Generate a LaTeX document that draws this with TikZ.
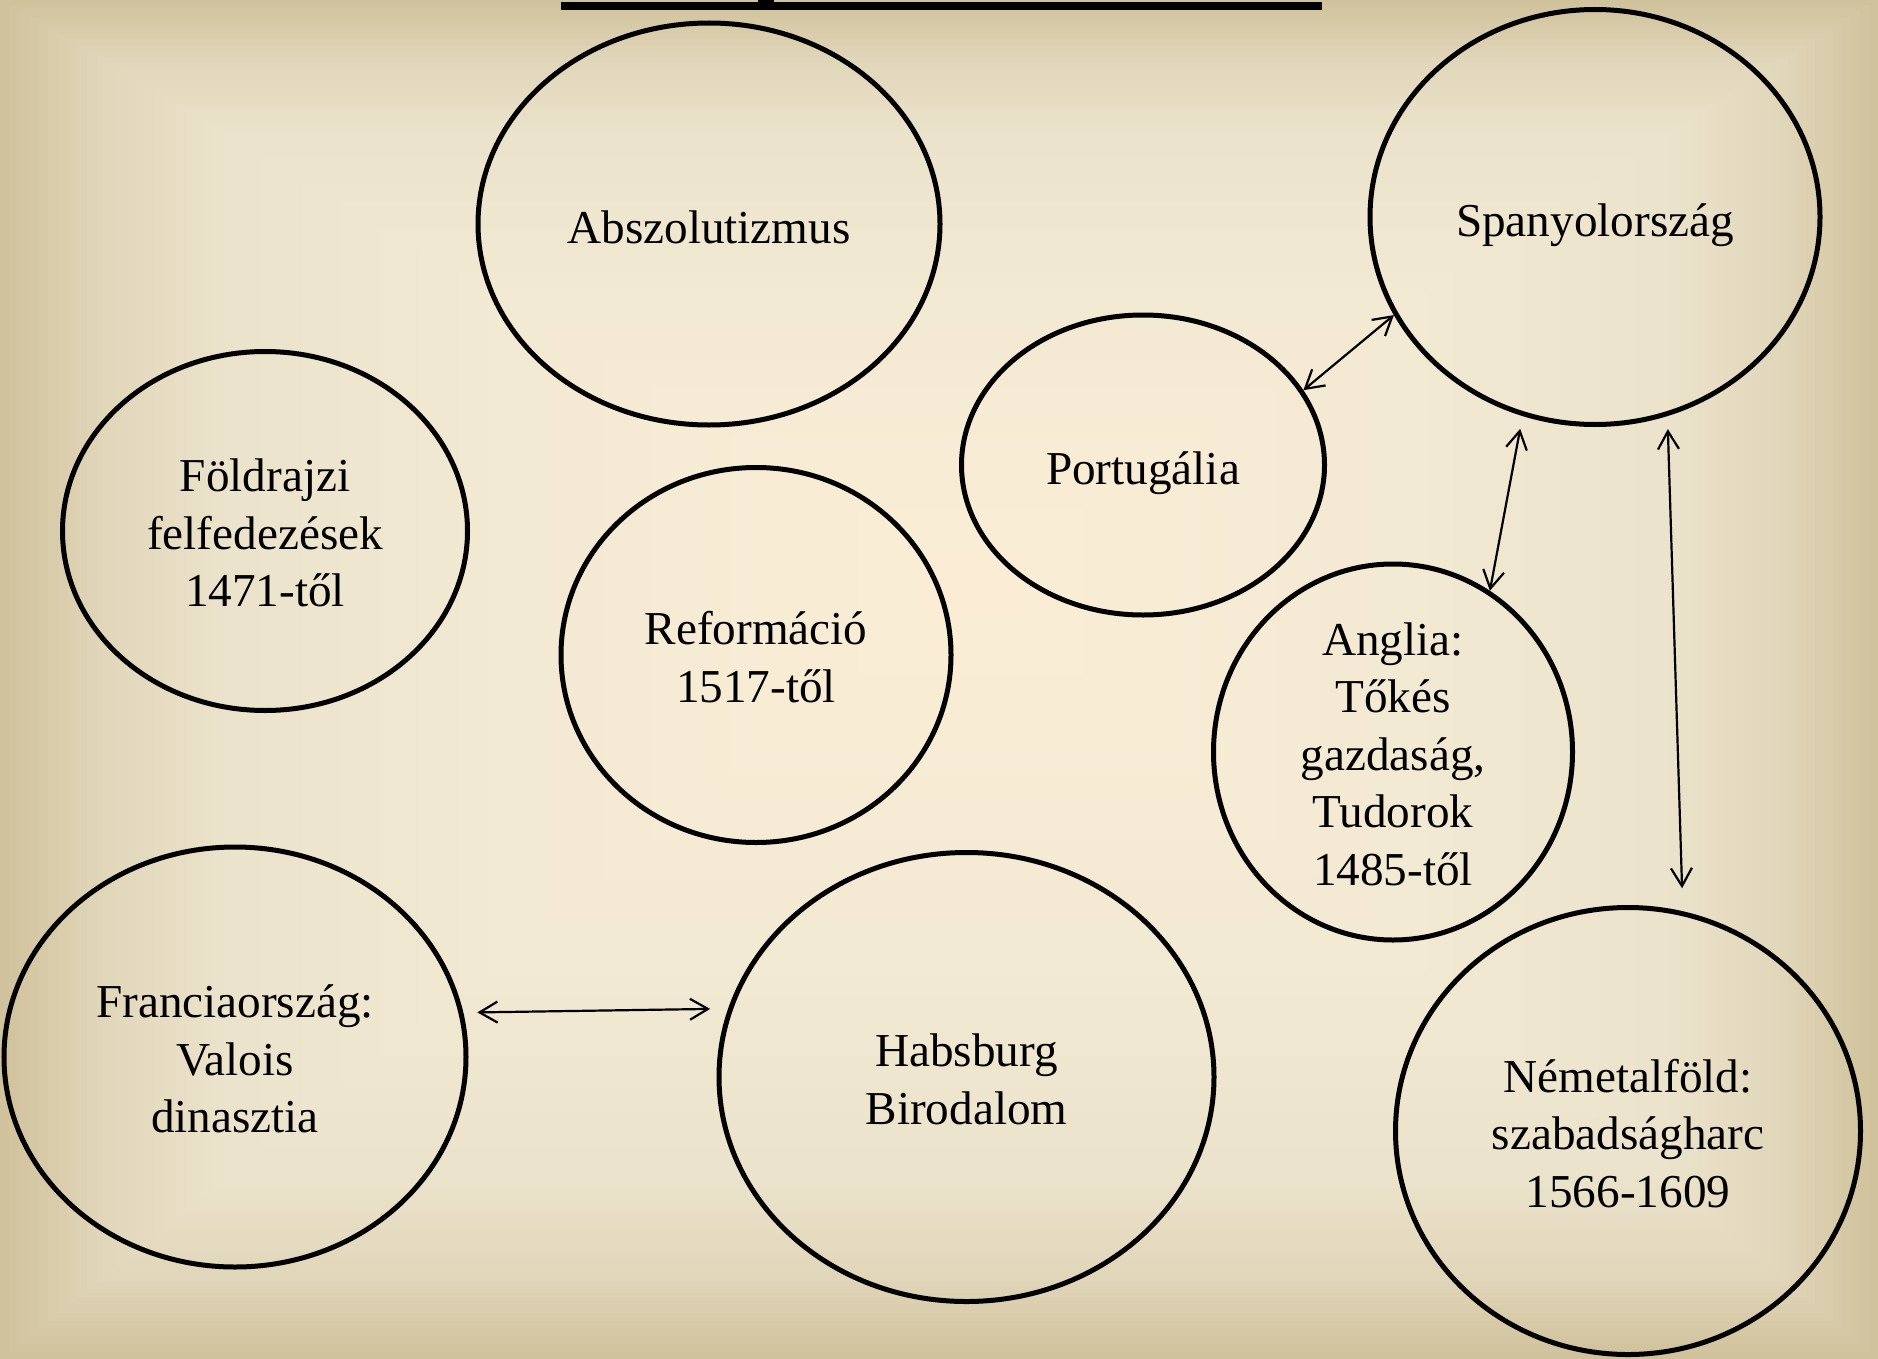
\documentclass[tikz,border=0pt]{standalone}
\usepackage{fontspec}
\setmainfont{Liberation Serif}
\usetikzlibrary{shapes.geometric,arrows.meta}
% piecewise-linear profile of one colour channel; #1 = t, #2..#6 = values at t = 1, .9, .78, .5, 0
\pgfmathdeclarefunction{bgprof}{6}{%
  \pgfmathparse{(#1>=0.9) ? (#3+(#2-#3)*(#1-0.9)/0.1) : ((#1>=0.78) ? (#4+(#3-#4)*(#1-0.78)/0.12) : ((#1>=0.5) ? (#5+(#4-#5)*(#1-0.5)/0.28) : (#6+(#5-#6)*#1/0.5)))}%
}
\tikzset{
  oval/.style={ellipse, draw=black, line width=5pt, inner sep=0pt},
  lbl/.style={align=center, font=\fontsize{47.2}{57.5}\selectfont, text=black, inner sep=0pt,
    execute at begin node=\strut, execute at end node=\strut, yshift=-10.5pt},
  one/.style={yshift=2.5pt},
  link/.style={{Straight Barb[length=18pt,width=21pt]}-{Straight Barb[length=18pt,width=21pt]}, line width=2.2pt},
}
\begin{document}
\begin{tikzpicture}[x=1pt,y=-1pt]
\useasboundingbox (0,0) rectangle (1878,1359);
% rectangular gradient background, centre (975,580)
\foreach \i in {0,...,100} {
  \pgfmathsetmacro\tv{1-\i/100}
  \pgfmathtruncatemacro\cR{bgprof(\tv,209,225,235,243,252)}
  \pgfmathtruncatemacro\cG{bgprof(\tv,195,215,227,234,238)}
  \pgfmathtruncatemacro\cB{bgprof(\tv,157,186,203,212,214)}
  \definecolor{bgtmp}{RGB}{\cR,\cG,\cB}
  \fill[bgtmp] ({975-\tv*975-0.5},{580-\tv*580-0.5}) rectangle ({975+\tv*903+0.5},{580+\tv*779+0.5});
}
% cut-off title underline
\fill[black] (561,2) rectangle (1322,10);
\fill[black] (758,0) rectangle (774,4);

\node[oval, minimum width=462pt, minimum height=402pt, label={[lbl,one]center:Abszolutizmus}] (absz) at (709,224) {};
\node[oval, minimum width=450pt, minimum height=415pt, label={[lbl,one]center:Spanyolország}] (sp) at (1595,217) {};
\node[oval, minimum width=405pt, minimum height=359pt, label={[lbl]center:{Földrajzi\\felfedezések\\1471-től}}] (fold) at (265,531) {};
\node[oval, minimum width=363pt, minimum height=300pt, label={[lbl,one]center:Portugália}] (port) at (1143,465) {};
\node[oval, minimum width=390pt, minimum height=375pt, label={[lbl]center:{Reformáció\\1517-től}}] (ref) at (756,655) {};
\node[oval, minimum width=359pt, minimum height=376pt, label={[lbl]center:{Anglia:\\Tőkés\\gazdaság,\\Tudorok\\1485-től}}] (ang) at (1393,752) {};
\node[oval, minimum width=462pt, minimum height=420pt, label={[lbl]center:{Franciaország:\\Valois\\dinasztia}}] (fr) at (235,1057) {};
\node[oval, minimum width=495pt, minimum height=449pt, label={[lbl]center:{Habsburg\\Birodalom}}] (hab) at (966.5,1077) {};
\node[oval, minimum width=465pt, minimum height=447pt, label={[lbl]center:{Németalföld:\\szabadságharc\\1566-1609}}] (nem) at (1628,1131) {};

\draw[link] (port.25) -- (sp.206.6);
\draw[link, shorten >=13pt] (ang.59) -- (sp.250);
\draw[link, shorten <=23pt, shorten >=13pt] (nem.76.5) -- (sp.290);
\draw[link, shorten <=14pt, shorten >=18pt] (fr.11) -- (hab.164.5);
\end{tikzpicture}
\end{document}
